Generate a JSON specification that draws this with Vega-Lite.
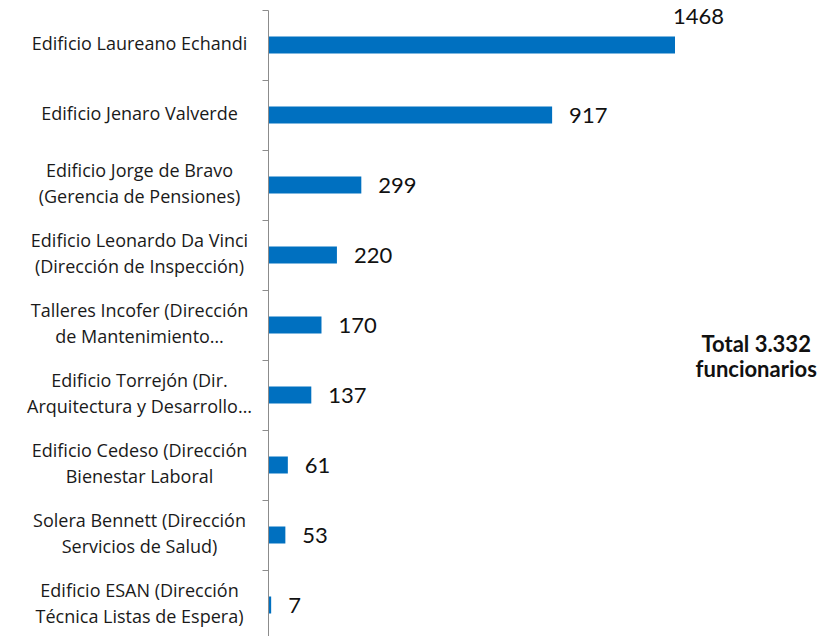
{
  "$schema": "https://vega.github.io/schema/vega-lite/v6.json",
  "autosize": {"type": "none"},
  "padding": {"left": 269, "top": 10, "right": 162, "bottom": 0},
  "width": 406,
  "height": 630,
  "background": "white",
  "config": {"view": {"stroke": null}},
  "data": {
    "values": [
      {"name": "Edificio Laureano Echandi", "value": 1468},
      {"name": "Edificio Jenaro Valverde", "value": 917},
      {"name": "Edificio Jorge de Bravo\n(Gerencia de Pensiones)", "value": 299},
      {"name": "Edificio Leonardo Da Vinci\n(Dirección de Inspección)", "value": 220},
      {"name": "Talleres Incofer (Dirección\nde Mantenimiento…", "value": 170},
      {"name": "Edificio Torrejón (Dir.\nArquitectura y Desarrollo…", "value": 137},
      {"name": "Edificio Cedeso (Dirección\nBienestar Laboral", "value": 61},
      {"name": "Solera Bennett (Dirección\nServicios de Salud)", "value": 53},
      {"name": "Edificio ESAN (Dirección\nTécnica Listas de Espera)", "value": 7}
    ]
  },
  "encoding": {
    "y": {
      "field": "name",
      "type": "nominal",
      "sort": null,
      "scale": {"paddingInner": 0, "paddingOuter": 0},
      "axis": {
        "title": null,
        "offset": 1,
        "bandPosition": 0,
        "domainColor": "#8c8c8c",
        "tickColor": "#8c8c8c",
        "tickSize": 6,
        "labelAlign": "center",
        "labelBaseline": "middle",
        "labelPadding": 123,
        "labelOffset": {"condition": {"test": "indexof(datum.label, '\\n') >= 0", "value": -13}, "value": 0},
        "labelFont": "Open Sans",
        "labelFontSize": 18,
        "labelColor": "#1a1a1a",
        "labelLineHeight": 26,
        "labelLimit": 400,
        "labelExpr": "split(datum.label, '\\n')"
      }
    }
  },
  "layer": [
    {
      "encoding": {
        "x": {"field": "value", "type": "quantitative", "scale": {"domain": [0, 1315], "clamp": true, "nice": false}, "axis": null}
      },
      "layer": [
        {
          "mark": {"type": "bar", "size": 17, "color": "#0070C0"}
        },
        {
          "transform": [{"filter": "datum.value < 1000"}],
          "mark": {"type": "text", "align": "left", "baseline": "middle", "dx": 17, "dy": 1, "font": "Lato", "fontSize": 22, "color": "#111111"},
          "encoding": {
            "text": {"field": "value", "type": "quantitative"}
          }
        },
        {
          "transform": [{"filter": "datum.value >= 1000"}],
          "mark": {"type": "text", "align": "left", "baseline": "middle", "dx": -2, "dy": -28, "font": "Lato", "fontSize": 22, "color": "#111111"},
          "encoding": {
            "text": {"field": "value", "type": "quantitative", "format": "d"}
          }
        }
      ]
    },
    {
      "transform": [{"filter": "indexof(datum.name, 'Talleres') == 0"}],
      "mark": {"type": "text", "align": "center", "baseline": "middle", "dy": 20, "font": "Lato", "fontWeight": "bold", "fontSize": 22, "lineHeight": 25, "color": "#111111"},
      "encoding": {
        "x": {"datum": 1.2, "type": "quantitative", "scale": {"domain": [0, 1], "nice": false}, "axis": null},
        "text": {"value": ["Total 3.332", "funcionarios"]}
      }
    }
  ],
  "resolve": {"scale": {"x": "independent"}}
}
